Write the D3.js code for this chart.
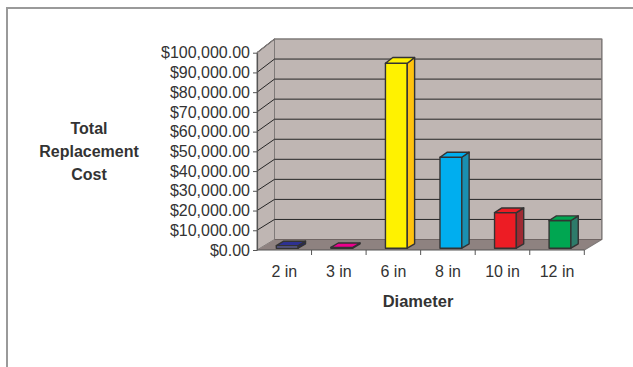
<!DOCTYPE html>
<html>
<head>
<meta charset="utf-8">
<script src="https://cdn.jsdelivr.net/npm/d3@7/dist/d3.min.js"></script>
<style>
  html, body { margin: 0; padding: 0; background: #fff; }
  svg { display: block; font-family: "Liberation Sans", Arial, sans-serif; }
</style>
</head>
<body>
<svg id="chart" width="633" height="367"></svg>
<script>
// Replacement cost by pipe diameter
const categories = ["2 in", "3 in", "6 in", "8 in", "10 in", "12 in"];
const costs = [1300, 400, 93500, 46000, 18000, 14000];
const yTicks = [0, 10000, 20000, 30000, 40000, 50000, 60000, 70000, 80000, 90000, 100000];
const frontColors = ["#6a6ab4", "#ec008c", "#fff200", "#00aeef", "#ed1c24", "#00a651"];
const topColors   = ["#2e3192", "#ec008c", "#fff200", "#00aeef", "#ed1c24", "#00a651"];
const sideColors  = ["#23236b", "#a8006a", "#ffc20e", "#1a8fb0", "#9e2a33", "#2d7b6a"];

const svg = d3.select("#chart");
const textColor = "#333";
const fontFamily = "Liberation Sans, Arial, sans-serif";

// frame around the chart area
svg.append("path")
  .attr("d", "M7,367 V8 H633")
  .attr("fill", "none").attr("stroke", "#9a9a9a").attr("stroke-width", 2);

// 3D box geometry: front plane and back plane with a depth offset
const depthX = 17.5;
const x = d3.scaleBand().domain(categories).range([257, 584.3]).paddingInner(0).paddingOuter(0);
const yF = d3.scaleLinear().domain([0, 100000]).range([250, 52.7]);
const yB = d3.scaleLinear().domain([0, 100000]).range([239.5, 39]);
// point at depth t (0 = front, 1 = back)
const px = (xf, t) => xf + depthX * t;
const py = (v, t) => yF(v) * (1 - t) + yB(v) * t;

const x0 = x.range()[0], x1 = x.range()[1];
const vMax = yTicks[yTicks.length - 1];
const wallFill = "#bfb6b3", floorFill = "#8e8280", edge = "#7f7a79";

// back wall
svg.append("polygon")
  .attr("points", [[px(x0,1), py(0,1)], [px(x1,1), py(0,1)], [px(x1,1), py(vMax,1)], [px(x0,1), py(vMax,1)]].join(" "))
  .attr("fill", wallFill).attr("stroke", edge).attr("stroke-width", 1);
// side wall
svg.append("polygon")
  .attr("points", [[px(x0,0), py(0,0)], [px(x0,1), py(0,1)], [px(x0,1), py(vMax,1)], [px(x0,0), py(vMax,0)]].join(" "))
  .attr("fill", wallFill).attr("stroke", edge).attr("stroke-width", 1);
// floor
svg.append("polygon")
  .attr("points", [[px(x0,0), py(0,0)], [px(x1,0), py(0,0)], [px(x1,1), py(0,1)], [px(x0,1), py(0,1)]].join(" "))
  .attr("fill", floorFill).attr("stroke", "none");

// gridlines on the back wall and the side wall
const grid = svg.append("g").attr("fill", "none").attr("stroke", "#262626").attr("stroke-width", 1);
yTicks.filter(v => v > 0 && v < vMax).forEach(v => {
  grid.append("path").attr("d", `M${px(x0,1)},${py(v,1)} H${px(x1,1)}`);
});
const sideGrid = svg.append("g").attr("fill", "none").attr("stroke", "#262626").attr("stroke-width", 1);
yTicks.filter(v => v > 0).forEach(v => {
  sideGrid.append("path").attr("d", `M${px(x0,0)},${py(v,0)} L${px(x0,1)},${py(v,1)}`);
});
// back wall top edge and right edge, floor outline
svg.append("path")
  .attr("d", `M${px(x0,0)},${py(vMax,0)} L${px(x0,1)},${py(vMax,1)} H${px(x1,1)} V${py(0,1)} L${px(x1,0)},${py(0,0)}`)
  .attr("fill", "none").attr("stroke", edge).attr("stroke-width", 1.2);
svg.append("path")
  .attr("d", `M${px(x0,1)},${py(0,1)} H${px(x1,1)}`)
  .attr("fill", "none").attr("stroke", "#6f6563").attr("stroke-width", 1);

// columns
const t0 = 0.17, t1 = 0.59;
const barW = x.bandwidth() * 0.4;
const bars = svg.append("g").attr("stroke", "#333").attr("stroke-width", 1.4).attr("stroke-linejoin", "round");
categories.forEach((c, i) => {
  const v = costs[i];
  const xl = x(c) + (x.bandwidth() - barW) / 2;
  const xr = xl + barW;
  const P = (xf, val, t) => [px(xf, t), py(val, t)];
  // front face
  bars.append("polygon")
    .attr("points", [P(xl,0,t0), P(xr,0,t0), P(xr,v,t0), P(xl,v,t0)].join(" "))
    .attr("fill", frontColors[i]);
  // right side face
  bars.append("polygon")
    .attr("points", [P(xr,0,t0), P(xr,0,t1), P(xr,v,t1), P(xr,v,t0)].join(" "))
    .attr("fill", sideColors[i]);
  // top face
  bars.append("polygon")
    .attr("points", [P(xl,v,t0), P(xr,v,t0), P(xr,v,t1), P(xl,v,t1)].join(" "))
    .attr("fill", topColors[i]);
});

// value axis on the front-left edge
const fmt = d3.format("$,.2f");
const yAxis = svg.append("g")
  .attr("transform", `translate(${x0},0)`)
  .call(d3.axisLeft(yF).tickValues(yTicks).tickFormat(fmt).tickSizeInner(4).tickSizeOuter(0).tickPadding(3));
yAxis.select(".domain").attr("stroke", "#555").attr("stroke-width", 1.2);
yAxis.selectAll(".tick line").attr("stroke", "#555");
yAxis.selectAll(".tick text")
  .attr("fill", textColor).attr("font-size", "16px")
  .attr("font-family", fontFamily);

// category axis along the front floor edge
svg.append("path")
  .attr("d", `M${x0},${yF(0)} H${x1}`)
  .attr("stroke", "#555").attr("stroke-width", 1.2);
const xAxis = svg.append("g")
  .attr("transform", `translate(0,${yF(0)})`)
  .call(d3.axisBottom(x).tickSize(0).tickPadding(0));
xAxis.select(".domain").remove();
xAxis.selectAll(".tick text")
  .attr("y", 27).attr("dy", null)
  .attr("fill", textColor).attr("font-size", "16px")
  .attr("font-family", fontFamily);
// tick marks between categories
svg.append("g").selectAll("line").data(categories).join("line")
  .attr("x1", c => x(c) + x.bandwidth()).attr("x2", c => x(c) + x.bandwidth())
  .attr("y1", yF(0)).attr("y2", yF(0) + 5)
  .attr("stroke", "#555").attr("stroke-width", 1);

// axis titles
const titleLines = ["Total", "Replacement", "Cost"];
svg.append("g").selectAll("text").data(titleLines).join("text")
  .attr("x", 89).attr("y", (d, i) => 134 + i * 23)
  .attr("text-anchor", "middle")
  .attr("font-size", "16px").attr("font-weight", "bold").attr("fill", textColor)
  .text(d => d);

svg.append("text")
  .attr("x", 418).attr("y", 307)
  .attr("text-anchor", "middle")
  .attr("font-size", "16.5px").attr("font-weight", "bold").attr("fill", textColor)
  .text("Diameter");
</script>
</body>
</html>
